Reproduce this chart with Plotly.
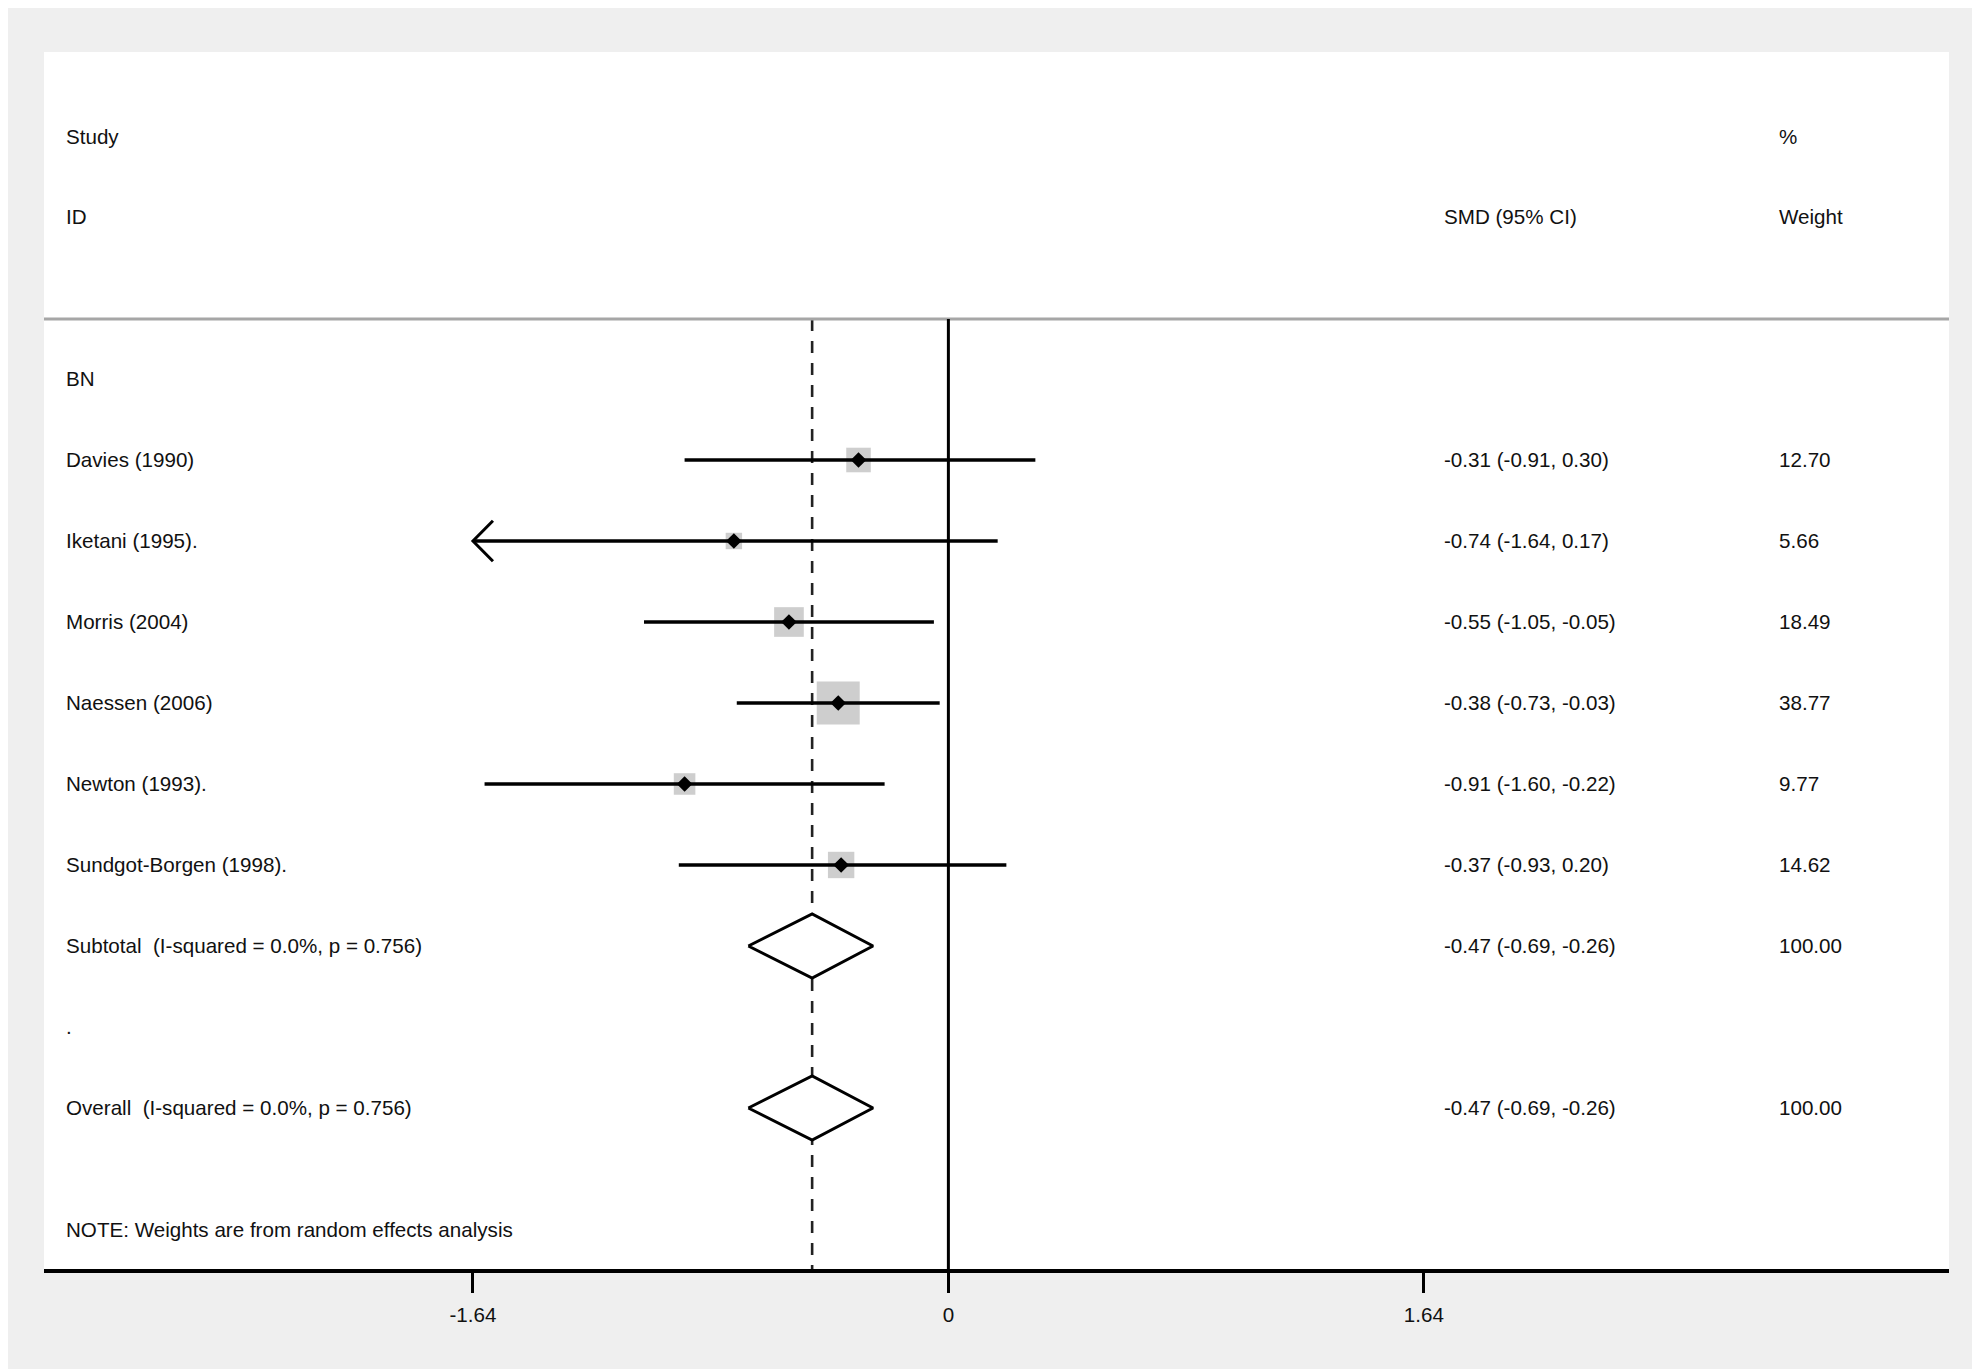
import plotly.graph_objects as go

# ---- data ----
studies = ["Davies (1990)", "Iketani (1995).", "Morris (2004)", "Naessen (2006)",
           "Newton (1993).", "Sundgot-Borgen (1998)."]
smd = [-0.31, -0.74, -0.55, -0.38, -0.91, -0.37]
ci_lo = [-0.91, -1.64, -1.05, -0.73, -1.60, -0.93]
ci_hi = [0.30, 0.17, -0.05, -0.03, -0.22, 0.20]
weights = [12.70, 5.66, 18.49, 38.77, 9.77, 14.62]

pooled_labels = ["Subtotal\u00a0 (I-squared = 0.0%, p = 0.756)",
                 "Overall\u00a0 (I-squared = 0.0%, p = 0.756)"]
pooled_est = [-0.47, -0.47]
pooled_lo = [-0.69, -0.69]
pooled_hi = [-0.26, -0.26]
pooled_w = [100.00, 100.00]

tick_vals = [-1.64, 0, 1.64]
tick_text = ["-1.64", "0", "1.64"]
group_label = "BN"
note = "NOTE: Weights are from random effects analysis"

# ---- layout rows (row index, top to bottom) ----
study_rows = [4 + i for i in range(len(studies))]
pooled_rows = [10, 12]
header_line_row = 2.26
x_min_display = tick_vals[0]

FONT = "Liberation Sans, Arial, sans-serif"
FS = 20.6
BLACK = "#111111"

fig = go.Figure()

# weight squares
fig.add_trace(go.Scatter(
    x=smd, y=study_rows, mode="markers",
    marker=dict(symbol="square", size=[6.9 * w ** 0.5 for w in weights],
                color="#b9b9b9", line=dict(width=0)),
    hoverinfo="skip"))

# CI lines (+ arrow when clipped)
for est, lo, hi, r in zip(smd, ci_lo, ci_hi, study_rows):
    lo_d = max(lo, x_min_display)
    fig.add_trace(go.Scatter(x=[lo_d, hi], y=[r, r], mode="lines",
                             line=dict(color="black", width=3.3), hoverinfo="skip"))
    if lo <= x_min_display:
        dx, dy = 0.069, 0.25
        fig.add_trace(go.Scatter(x=[lo_d + dx, lo_d, lo_d + dx], y=[r - dy, r, r + dy],
                                 mode="lines", line=dict(color="black", width=3),
                                 hoverinfo="skip"))

# point estimates
fig.add_trace(go.Scatter(
    x=smd, y=study_rows, mode="markers",
    marker=dict(symbol="diamond", size=12, color="black", line=dict(width=0)),
    hoverinfo="skip"))

# pooled diamonds
h = 0.395
for est, lo, hi, r in zip(pooled_est, pooled_lo, pooled_hi, pooled_rows):
    fig.add_trace(go.Scatter(
        x=[lo, est, hi, est, lo], y=[r, r - h, r, r + h, r], mode="lines",
        fill="toself", fillcolor="white",
        line=dict(color="black", width=3), hoverinfo="skip"))

y_top, y_bot = -1.037, 13.988

shapes = [
    # header separator
    dict(type="line", xref="paper", yref="y", x0=0, x1=1,
         y0=header_line_row, y1=header_line_row,
         line=dict(color="#a6a6a6", width=3)),
    # no-effect line
    dict(type="line", xref="x", yref="y", x0=0, x1=0,
         y0=header_line_row, y1=y_bot, line=dict(color="black", width=3)),
    # overall estimate dashed line
    dict(type="line", xref="x", yref="y", x0=pooled_est[1], x1=pooled_est[1],
         y0=header_line_row, y1=y_bot,
         line=dict(color="#222222", width=2.6, dash="12px,10px"), layer="below"),
]

ann = []
def txt(xp, r, s):
    ann.append(dict(x=xp, y=r, xref="paper", yref="y", text=s, showarrow=False,
                    xanchor="left", yanchor="middle",
                    font=dict(family=FONT, size=FS, color=BLACK)))

col_label, col_smd, col_w = 0.0107, 0.7340, 0.9099
txt(col_label, 0, "Study")
txt(col_label, 1, "ID")
txt(col_smd, 1, "SMD (95% CI)")
txt(col_w, 0, "%")
txt(col_w, 1, "Weight")
txt(col_label, 3, group_label)
for s, est, lo, hi, w, r in zip(studies, smd, ci_lo, ci_hi, weights, study_rows):
    txt(col_label, r, s)
    txt(col_smd, r, f"{est:.2f} ({lo:.2f}, {hi:.2f})")
    txt(col_w, r, f"{w:.2f}")
for s, est, lo, hi, w, r in zip(pooled_labels, pooled_est, pooled_lo, pooled_hi, pooled_w, pooled_rows):
    txt(col_label, r, s)
    txt(col_smd, r, f"{est:.2f} ({lo:.2f}, {hi:.2f})")
    txt(col_w, r, f"{w:.2f}")
txt(col_label, 11, ".")
txt(col_label, 13.5, note)

# page body has an 8px default margin: compensate so the plot lands where the reference has it
fig.update_layout(
    width=1972, height=1361,
    margin=dict(l=36, r=31, t=44, b=100),
    paper_bgcolor="#efefef", plot_bgcolor="white",
    showlegend=False, shapes=shapes, annotations=ann,
    xaxis=dict(range=[-3.1197, 3.4516], tickvals=tick_vals, ticktext=tick_text,
               ticks="outside", ticklen=20, tickwidth=3, tickcolor="black",
               showline=True, linewidth=4, linecolor="black",
               showgrid=False, zeroline=False, ticklabelstandoff=4,
               tickfont=dict(family=FONT, size=FS, color=BLACK), fixedrange=True),
    yaxis=dict(range=[y_bot, y_top], visible=False, showgrid=False,
               zeroline=False, fixedrange=True),
)

fig.write_html("out.html")
